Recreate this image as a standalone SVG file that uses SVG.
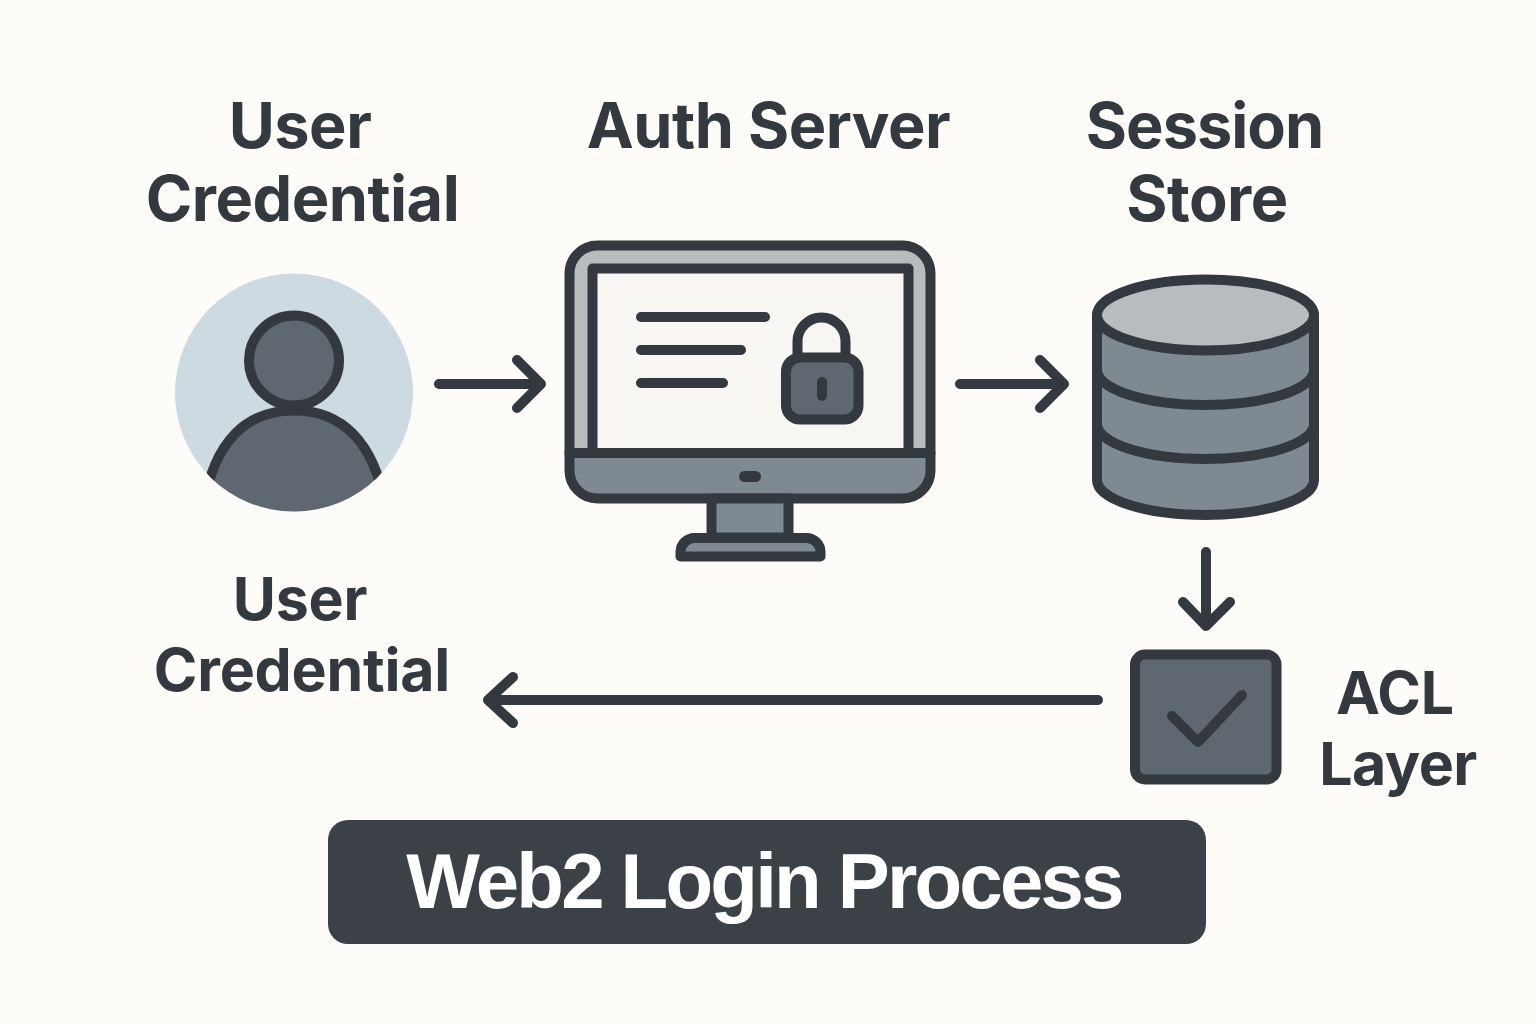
<svg xmlns="http://www.w3.org/2000/svg" width="1536" height="1024" viewBox="0 0 1536 1024">
<style>
.o{stroke:#33393e;stroke-width:10;stroke-linecap:round;stroke-linejoin:round}
.l{fill:none}
.d{fill:#5f6871}
.m{fill:#7f8992}
.p{fill:#b9bcbf}
.t{font-family:Inter,"Liberation Sans",sans-serif;font-weight:650;fill:#33393e;text-anchor:middle}
.h{font-size:63px;letter-spacing:-.5px}
.s{font-size:59px;letter-spacing:-.2px}
</style>
<defs><clipPath id="disc"><circle cx="294" cy="392.5" r="119"/></clipPath></defs>
<rect width="1536" height="1024" fill="#fdfcf9"/>
<g id="user-top-label"><text class="t h" x="300" y="148">User</text><text class="t h" x="302.500" y="220.500">Credential</text></g>
<g id="auth-label"><text class="t h" x="768.500" y="148">Auth Server</text></g>
<g id="store-label"><text class="t h" x="1204.500" y="148" style="letter-spacing:-1px">Session</text><text class="t h" x="1207" y="220.500">Store</text></g>
<g id="user-node">
<circle cx="294" cy="392.5" r="119" fill="#cddae1"/>
<g clip-path="url(#disc)">
<path class="d" stroke="#33393e" stroke-width="10" d="M204 505C214 442 246 410.500 294 410.500C342 410.500 374 442 385 505V520H204Z"/>
</g>
<circle class="o d" cx="294" cy="360.500" r="45"/>
</g>
<g id="auth-node">
<rect class="p" x="569.500" y="245.500" width="361" height="253" rx="28"/>
<path class="m" d="M574 453H926V470A24 24 0 0 1 902 494H598A24 24 0 0 1 574 470Z"/>
<rect class="o" x="592.500" y="268.500" width="316" height="184.500" fill="#f7f6f2" stroke-linejoin="miter"/>
<path class="o l" d="M569.500 453H930.500"/>
<rect class="o l" x="569.500" y="245.500" width="361" height="253" rx="28"/>
<path class="o l" d="M641 317H765M641 350H741M641 383H723"/>
<path class="o l" d="M797.500 357V341.500A24 24 0 0 1 845.500 341.500V357"/>
<rect class="o d" x="786" y="357.500" width="72.500" height="62" rx="14"/>
<path class="o l" d="M822 382V396"/>
<rect x="739" y="471" width="22" height="11" rx="5.500" fill="#33393e"/>
<rect class="o m" x="711.500" y="498.500" width="77" height="39"/>
<path class="o m" d="M680.500 556.500V552A14 14 0 0 1 694.500 538H806.500A14 14 0 0 1 820.500 552V556.500Z"/>
</g>
<g id="store-node">
<path class="o m" d="M1097 315V480A108.500 35 0 0 0 1314 480V315Z"/>
<path class="o l" d="M1097 370A108.500 35 0 0 0 1314 370M1097 424A108.500 35 0 0 0 1314 424"/>
<ellipse class="o p" cx="1205.500" cy="315" rx="108.500" ry="35.500"/>
</g>
<g id="acl-node">
<rect class="o d" x="1135" y="654.500" width="141.500" height="125" rx="10"/>
<path class="o l" d="M1172 716L1198 742L1242 695"/>
</g>
<g id="connectors">
<path class="o l" d="M439 384H541M517 360L541 384L517 408"/>
<path class="o l" d="M960 384H1064M1040 360L1064 384L1040 408"/>
<path class="o l" d="M1206 552V626M1183 602L1206 626L1230 602"/>
<path class="o l" d="M1098 700H488M513 677L488 700L513 723"/>
</g>
<g id="user-bottom-label"><text class="t s" x="300" y="620">User</text><text class="t s" x="302" y="691">Credential</text></g>
<g id="acl-label"><text class="t s" x="1395" y="714">ACL</text><text class="t s" x="1398" y="785" style="letter-spacing:-.5px">Layer</text></g>
<g id="title"><rect x="328" y="820" width="878" height="124" rx="20" fill="#3b4146"/><text x="764" y="908" font-family="'Liberation Sans',Arial,sans-serif" font-weight="700" font-size="78" letter-spacing="-2.8" fill="#fff" text-anchor="middle">Web2 Login Process</text></g>
</svg>
